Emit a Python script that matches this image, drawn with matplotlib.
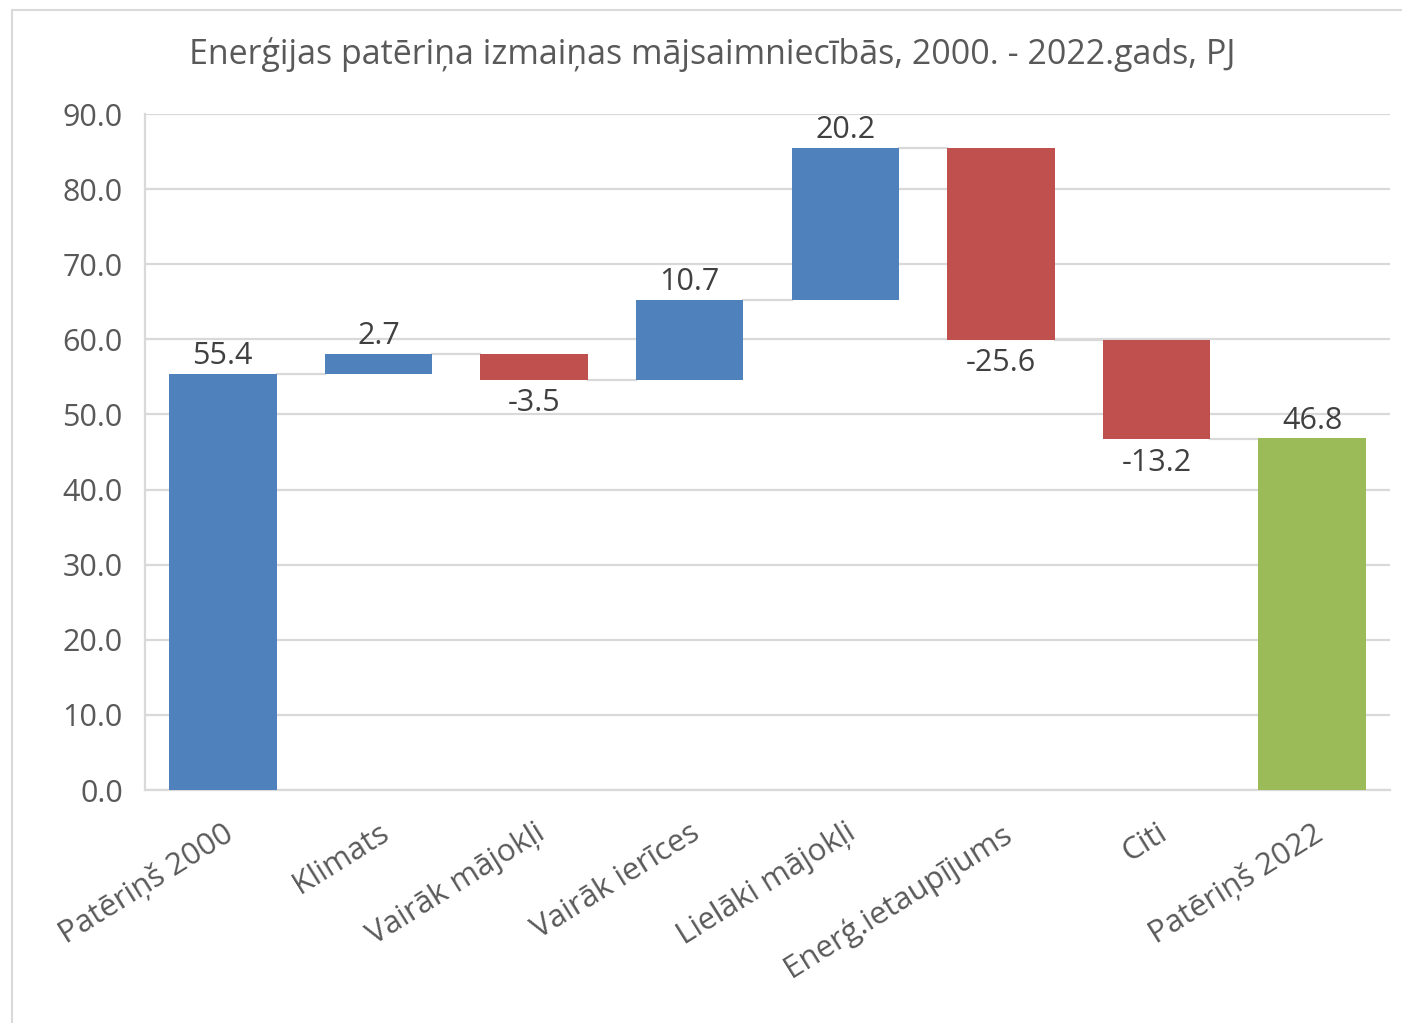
import numpy as np
import matplotlib
matplotlib.use('Agg')
import matplotlib.pyplot as plt
from matplotlib.patches import Rectangle

plt.rcParams['font.family'] = ['Open Sans', 'DejaVu Sans']

# --- Dati ---
categories = ['Patēriņš 2000', 'Klimats', 'Vairāk mājokļi', 'Vairāk ierīces',
              'Lielāki mājokļi', 'Enerģ.ietaupījums', 'Citi', 'Patēriņš 2022']
start_total = 55.4
changes = [2.7, -3.5, 10.7, 20.2, -25.6, -13.2]
end_total = 46.8
title = 'Enerģijas patēriņa izmaiņas mājsaimniecībās, 2000. - 2022.gads, PJ'
yticks = np.arange(0, 100, 10)

blue = '#4F81BD'
red = '#C0504D'
green = '#9BBB59'
grey_txt = '#595959'
grid_c = '#D9D9D9'

# waterfall bottoms / heights
levels = np.concatenate([[start_total], start_total + np.cumsum(changes)])
bottoms = [0] + [min(levels[i], levels[i + 1]) for i in range(len(changes))] + [0]
heights = [start_total] + [abs(c) for c in changes] + [end_total]
colors = [blue] + [blue if c > 0 else red for c in changes] + [green]
labels = [start_total] + changes + [end_total]
tops = [b + h for b, h in zip(bottoms, heights)]

fig = plt.figure(figsize=(14.02, 10.23), dpi=100)
ax = fig.add_axes([145 / 1402, 1 - 790 / 1023, (1390 - 145) / 1402, (790 - 114) / 1023])

x = np.arange(len(categories))
w = 0.69
ax.bar(x, heights, bottom=bottoms, width=w, color=colors, zorder=3)

# connector lines
conn = [start_total] + list(levels[1:])
for i in range(len(categories) - 1):
    ax.plot([x[i] + w / 2, x[i + 1] - w / 2], [conn[i], conn[i]],
            color=grid_c, lw=1.6, zorder=2)

# data labels
for i, v in enumerate(labels):
    if v < 0:
        ax.annotate(f'{v:.1f}', (x[i], bottoms[i]), xytext=(0, -6),
                    textcoords='offset points', ha='center', va='top',
                    fontsize=22, color='#404040')
    else:
        ax.annotate(f'{v:.1f}', (x[i], tops[i]), xytext=(0, 2),
                    textcoords='offset points', ha='center', va='bottom',
                    fontsize=22, color='#404040')

ax.set_xlim(-0.5, len(categories) - 0.5)
ax.set_ylim(0, 90)
ax.set_yticks(yticks)
ax.set_yticklabels([f'{t:.1f}' for t in yticks], fontsize=22, color=grey_txt)
ax.set_xticks(x)
ax.set_xticklabels(categories, rotation=32, ha='right', rotation_mode='anchor',
                   fontsize=22.5, color=grey_txt)
ax.tick_params(axis='y', length=0, pad=16)
ax.tick_params(axis='x', length=0, pad=20)
ax.grid(axis='y', color=grid_c, lw=1.6, zorder=0)
ax.set_axisbelow(True)
for s in ['top', 'right']:
    ax.spines[s].set_visible(False)
for s in ['left', 'bottom']:
    ax.spines[s].set_color(grid_c)
    ax.spines[s].set_linewidth(1.6)

fig.text(712 / 1402, 1 - 55 / 1023, title, ha='center', va='center',
         fontsize=24.5, color=grey_txt)

# chart frame
fig.patches.append(Rectangle((12 / 1402, -0.1), 1.2, 1 - 10 / 1023 + 0.1,
                             transform=fig.transFigure, fill=False,
                             edgecolor=grid_c, lw=1.5))

fig.savefig('out.png', dpi=100)
